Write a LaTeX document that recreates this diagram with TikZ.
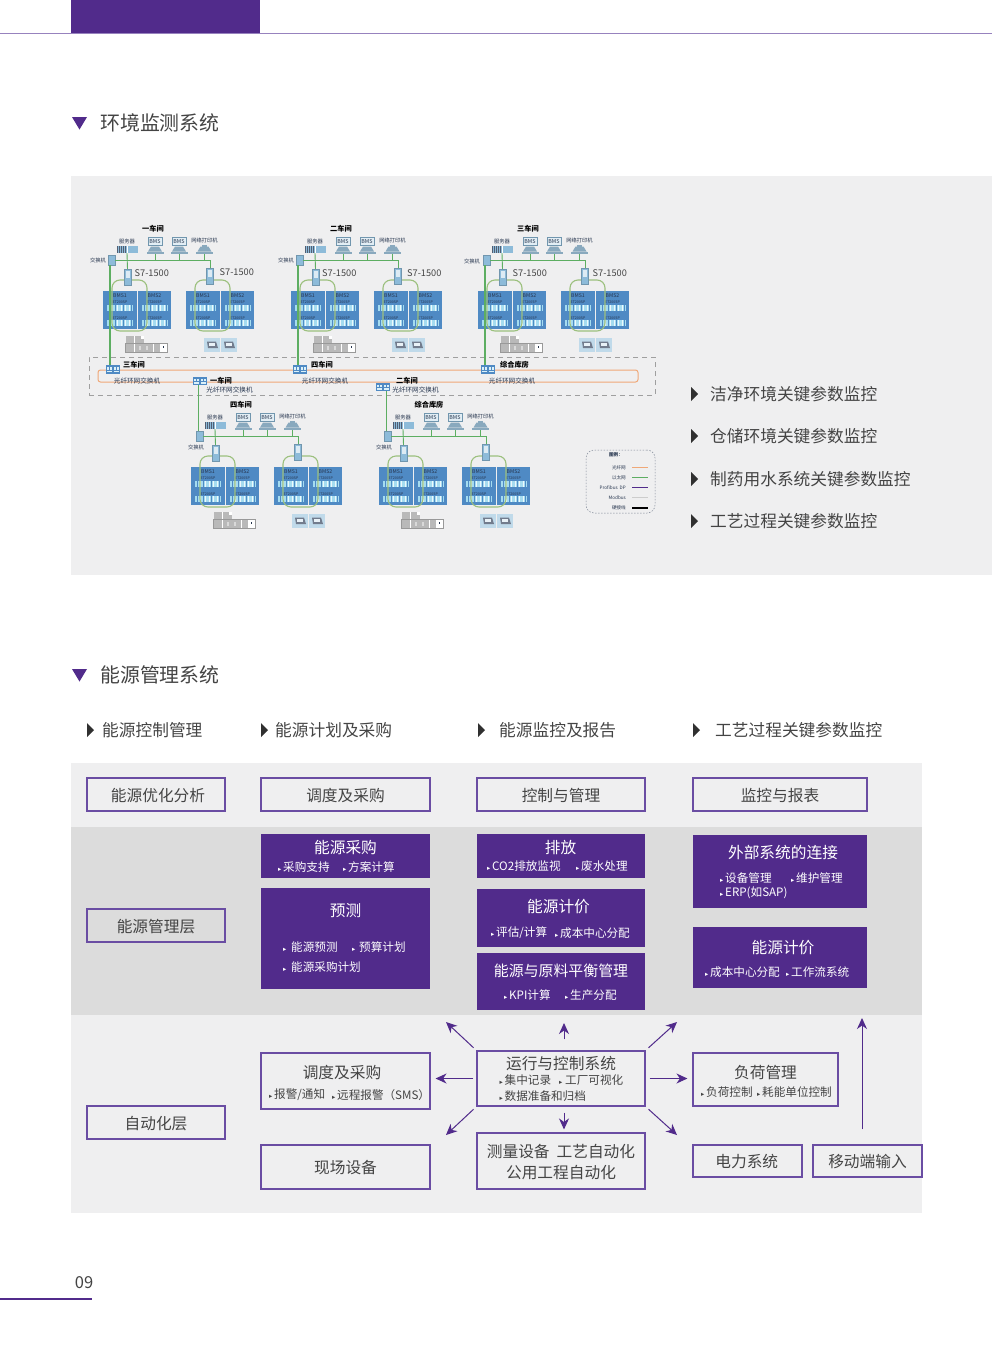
\documentclass[tikz,border=0pt]{standalone}
\usepackage{fontspec}
\setmainfont{Noto Sans CJK SC}
\newfontfamily\symfont{DejaVu Sans}
\usetikzlibrary{positioning,arrows.meta}

\definecolor{mainpurple}{HTML}{512B8B}
\definecolor{framepurple}{HTML}{6A4DA3}
\definecolor{darktext}{HTML}{444444}
\definecolor{bandlight}{HTML}{EFEFF0}
\definecolor{bandmid}{HTML}{DCDCDC}
\definecolor{panelblue}{HTML}{4F8AC4}
\definecolor{stripcyan}{HTML}{A5DCF0}
\definecolor{iconblue}{HTML}{8DBBD9}
\definecolor{ethgreen}{HTML}{5DAE62}
\definecolor{loopgreen}{HTML}{9CC07E}
\definecolor{ringorange}{HTML}{EFA878}
\definecolor{navytext}{HTML}{27364F}

\newcommand{\tick}{\makebox[5pt][l]{\symfont\fontsize{6.5}{6.5}\selectfont ▸}}
\newcommand{\fsz}[1]{\fontsize{#1}{#1}\selectfont}

\tikzset{
    plainbox/.style={draw=framepurple, line width=1.6pt, inner sep=0pt, text=darktext, font=\fsz{15.7}, text height=15pt, text depth=2pt},
    solidbox/.style={fill=mainpurple, inner sep=0pt, text=white, font=\fsz{15.7}},
    boxline/.style={anchor=center, inner sep=0pt, font=\fsz{15.7}},
    itemlabel/.style={anchor=west, inner sep=0pt, font=\fsz{11.6}},
    listlabel/.style={anchor=west, inner sep=0pt, text=darktext, font=\fsz{16.7}},
    headlabel/.style={anchor=west, inner sep=0pt, text=darktext, font=\fsz{19.9}},
    flowarrow/.style={draw=mainpurple, line width=1pt, -{Stealth[length=11pt,width=10pt,inset=3.5pt]}},
    netlabel/.style={inner sep=0pt, text=navytext, font=\fsz{5.3}},
    hallabel/.style={inner sep=0pt, text=black, font=\fsz{7.2}\bfseries},
    ringlabel/.style={inner sep=0pt, text=navytext, font=\fsz{6.6}},
    plclabel/.style={anchor=west, inner sep=0pt, text=darktext, font=\fsz{9.2}},
    bmsbox/.style={fill=panelblue, anchor=north west, minimum width=33.5pt, minimum height=38pt, inner sep=0pt},
    monitor/.style={draw=iconblue!80!black, fill=iconblue!25, line width=.6pt, minimum width=14pt, minimum height=8.5pt, inner sep=0pt, text=navytext, font=\fsz{5.4}},
    stand/.style={fill=iconblue!70!gray, minimum width=17pt, minimum height=2pt, inner sep=0pt},
    serverbox/.style={fill=iconblue, minimum width=21pt, minimum height=7pt, inner sep=0pt},
    switchbox/.style={fill=iconblue, draw=iconblue!80!black, line width=.3pt, minimum width=6.5pt, minimum height=10pt, inner sep=0pt},
    plcbox/.style={fill=iconblue, draw=iconblue!80!black, line width=.3pt, minimum width=7pt, minimum height=16pt, inner sep=0pt},
    ringswitch/.style={fill=panelblue, minimum width=14pt, minimum height=8.5pt, inner sep=0pt},
    loopbox/.style={draw=loopgreen, line width=1.1pt, rounded corners=8pt, minimum width=35pt, minimum height=51pt, inner sep=0pt},
    ethline/.style={draw=ethgreen, line width=.9pt},
    uplink/.style={draw=ethgreen, line width=1.1pt},
}

% one cabinet with its two rows of modules
\newcommand{\bmspanel}[3]{%
    \node[bmsbox] (#1) at (#2,291) {};
    \node[inner sep=0pt, text=navytext, font=\fsz{5.2}] (#1t) at (#2+17,296) {#3};
    \node[inner sep=0pt, text=navytext, font=\fsz{3.6}] (#1e) at (#2+17,301.7) {ET200SP};
    \node[inner sep=0pt, text=navytext, font=\fsz{3.6}] (#1f) at (#2+17,317.7) {ET200SP};
    \foreach \sy in {305,320} {
        \fill[stripcyan] (#2+4,\sy) rectangle ++(26,6);
        \foreach \k in {5,10,14,18,22} \fill[white!80!stripcyan] (#2+4+\k,\sy) rectangle ++(1.2,6);
        \foreach \k in {2,8,16,24} \fill[panelblue] (#2+4+\k,\sy) rectangle ++(.8,6);
    }
}

% ring switch with its small white ports
\newcommand{\ringnode}[3]{%
    \node[ringswitch] (#1) at (#2,#3) {};
    \foreach \k in {-5,-2,2,5} \fill[white!60!stripcyan] (#2+\k-.6,#3-2.5) rectangle ++(1.2,2.5);
    \fill[white!60!stripcyan] (#2-6,#3+1) rectangle ++(5,1.6);
    \fill[white!60!stripcyan] (#2+1,#3+1) rectangle ++(5,1.6);
}

% one monitor stand
\newcommand{\standnode}[3]{%
    \fill[iconblue!70!gray] (#2-4,246.5) -- (#2+4,246.5) -- (#2+7,251.5) -- (#2-7,251.5) -- cycle;
    \node[stand] (#1) at (#2,252.5) {};
}

% one workshop: servers, bus, two PLC and four cabinets
\newcommand{\netgroup}[4]{%
    \begin{scope}[shift={(#2,#3)}]
        \node[hallabel] (#1title) at (153,228.5) {#4};
        \node[netlabel] (#1srvt) at (127,241) {服务器};
        \node[netlabel] (#1prnt) at (204.5,240.5) {网络打印机};
        \node[serverbox] (#1srv) at (127,249.5) {};
        \foreach \k in {0,2,4,6,8} \fill[navytext!80] (116.5+\k,246) rectangle ++(1,7);
        \fill[white] (127,246) rectangle ++(1,7);
        \node[monitor] (#1mona) at (155,241.5) {BMS};
        \node[monitor] (#1monb) at (179,241.5) {BMS};
        \standnode{#1bsa}{155}{}
        \standnode{#1bsb}{179}{}
        \standnode{#1prn}{204.5}{}
        \fill[iconblue!70!gray] (202,244.5) rectangle ++(5,3);
        \node[switchbox] (#1sw) at (111.5,260) {};

        \bmspanel{#1pa}{103}{BMS1}
        \bmspanel{#1pb}{137.5}{BMS2}
        \bmspanel{#1pc}{186}{BMS1}
        \bmspanel{#1pd}{220.5}{BMS2}
        \node[loopbox] (#1la) at (129.5,305.5) {};
        \node[loopbox] (#1lb) at (212.5,305.5) {};
        \node[plcbox] (#1plca) at (127.5,277) {};
        \fill[white!70!iconblue] (125.5,271) rectangle ++(4,7);
        \node[plcbox] (#1plcb) at (210,276) {};
        \fill[white!70!iconblue] (208,270) rectangle ++(4,7);

        \draw[ethline] (#1sw.east) -- (#1sw.east -| #1plcb.north) -- (#1plcb.north);
        \draw[ethline] (#1srv.south) -- (#1plca.north);
        \draw[ethline] (#1bsa.south) -- (#1bsa.south |- #1sw.east);
        \draw[ethline] (#1bsb.south) -- (#1bsb.south |- #1sw.east);
        \draw[ethline] (#1prn.south) -- (#1prn.south |- #1sw.east);

        % gray rack under the first pair
        \fill[gray!55] (125.5,335.5) rectangle (144,343);
        \fill[gray!55] (125.5,343.5) rectangle (167,352);
        \draw[white, line width=.5pt] (134,335.5) -- (134,352);
        \draw[white, line width=.5pt] (153,343.5) -- (153,352);
        \fill[white] (160,344) rectangle (166.5,351.5);
        \fill[white] (140.5,336) rectangle (143.5,338.5);
        \fill[white!70!gray] (139,346) rectangle (141,350);
        \fill[white!70!gray] (146,346) rectangle (148,350);
        \draw[navytext, line width=.5pt] (163,346) -- (163,348);
        \draw[gray!80, line width=.4pt] (125.5,343.5) rectangle (167,352);

        % two screens under the second pair
        \foreach \sx in {204,221} {
            \fill[iconblue!55] (\sx,338) rectangle ++(16,14);
            \fill[navytext!65] (\sx+3,341.5) -- (\sx+12,341.5) -- (\sx+14,348) -- (\sx+4,348) -- cycle;
            \fill[white!80!iconblue] (\sx+5,343) rectangle ++(6,3);
        }
    \end{scope}
}

\begin{document}
\begin{tikzpicture}[x=1pt,y=-1pt]
    \useasboundingbox (0,0) rectangle (992,1347);

    % page head
    \fill[mainpurple] (71,0) rectangle (260,33);
    \draw[framepurple!70, line width=.8pt] (0,33.5) -- (992,33.5);

    % first section
    \fill[mainpurple] (72,117) -- (87,117) -- (79.5,129.5) -- cycle;
    \node[headlabel] (envhead) at (100,123) {环境监测系统};
    \fill[bandlight] (71,176) rectangle (992,575);

    \node[draw=gray!75, dash pattern=on 5pt off 4pt, line width=.7pt, minimum width=566pt, minimum height=38pt, inner sep=0pt] (ringzone) at (372,376) {};
    \node[draw=ringorange, line width=1pt, rounded corners=2.5pt, minimum width=540pt, minimum height=12pt, inner sep=0pt] (fiberring) at (368,376) {};

    \netgroup{a}{0}{0}{一车间}
    \netgroup{b}{188}{0}{二车间}
    \netgroup{c}{375}{0}{三车间}
    \netgroup{d}{88}{176}{四车间}
    \netgroup{e}{276}{176}{综合库房}

    % switch and controller captions
    \node[netlabel] (aswt) at (98,260) {交换机};
    \node[netlabel] (bswt) at (286,260.5) {交换机};
    \node[netlabel] (cswt) at (472,261) {交换机};
    \node[netlabel] (dswt) at (196,447) {交换机};
    \node[netlabel] (eswt) at (384,447) {交换机};
    \foreach \nm/\xx/\yy in {sa/134.5/273.5, sb/219.5/272.5, sc/322/273.5, sd/407/273.5, se/512.5/273.5, sf/592.5/273.5}
        \node[plclabel] (\nm) at (\xx,\yy) {S7-1500};

    % ring switches
    \ringnode{rthree}{113}{369.5}
    \ringnode{rone}{200}{381}
    \ringnode{rfour}{300}{369.5}
    \ringnode{rtwo}{383}{387}
    \ringnode{rstore}{488}{369.5}

    \node[hallabel] (rthreet) at (134,365) {三车间};
    \node[ringlabel] (rthreef) at (137,381) {光纤环网交换机};
    \node[hallabel] (ronet) at (221,380.5) {一车间};
    \node[ringlabel] (ronef) at (229.5,390) {光纤环网交换机};
    \node[hallabel] (rfourt) at (322,365) {四车间};
    \node[ringlabel] (rfourf) at (325,381) {光纤环网交换机};
    \node[hallabel] (rtwot) at (407,380.5) {二车间};
    \node[ringlabel] (rtwof) at (415.5,390) {光纤环网交换机};
    \node[hallabel] (rstoret) at (514.5,365) {综合库房};
    \node[ringlabel] (rstoref) at (512,381) {光纤环网交换机};

    \draw[uplink] ([xshift=-1.5]asw.south) -- ([xshift=-1.5]asw.south |- rthree.north);
    \draw[uplink] ([xshift=-1.5]bsw.south) -- ([xshift=-1.5]bsw.south |- rfour.north);
    \draw[uplink] ([xshift=-1.5]csw.south) -- ([xshift=-1.5]csw.south |- rstore.north);
    \draw[uplink] ([xshift=-1.3]dsw.north) -- ([xshift=-1.3]dsw.north |- rone.south);
    \draw[uplink] ([xshift=-1.3]esw.north) -- ([xshift=-1.3]esw.north |- rtwo.south);

    % legend
    \node[draw=navytext!60, dash pattern=on 1.5pt off 1.5pt, line width=.5pt, rounded corners=8pt, minimum width=69pt, minimum height=63pt, inner sep=0pt] (legendbox) at (620.5,481.5) {};
    \node[inner sep=0pt, text=navytext, font=\fsz{4.6}\bfseries] (legendt) at (616,455) {图例：};
    \foreach \nm/\txt/\cc/\yy in {lga/光纤网/ringorange/467.5, lgb/以太网/ethgreen/477.5, lgc/Profibus\hspace{2pt}DP/mainpurple/487.5, lgd/Modbus/gray!40/497.5, lge/硬接线/black/508} {
        \node[anchor=east, inner sep=0pt, text=navytext, font=\fsz{4.6}] (\nm) at (626,\yy) {\txt};
        \draw[color=\cc, line width=1.4pt] ([xshift=6]\nm.east) -- ([xshift=22]\nm.east);
    }

    % list on the right
    \foreach \nm/\yy/\txt in {la/394/洁净环境关键参数监控, lb/436/仓储环境关键参数监控, lc/479/制药用水系统关键参数监控, ld/521/工艺过程关键参数监控} {
        \fill[darktext!70!black] (691,\yy-7) -- (698,\yy) -- (691,\yy+7) -- cycle;
        \node[listlabel] (\nm) at (710,\yy) {\txt};
    }

    % second section
    \fill[mainpurple] (72,669) -- (87,669) -- (79.5,681.5) -- cycle;
    \node[headlabel] (enghead) at (100,675) {能源管理系统};
    \foreach \nm/\tx/\xx/\txt in {ca/87/102/能源控制管理, cb/261/275/能源计划及采购, cc/478/499/能源监控及报告, cd/693/715/工艺过程关键参数监控} {
        \fill[darktext!70!black] (\tx,723) -- (\tx+7,730) -- (\tx,737) -- cycle;
        \node[listlabel] (\nm) at (\xx,730) {\txt};
    }

    \fill[bandlight] (71,763) rectangle (922,827);
    \fill[bandmid] (71,827) rectangle (922,1015);
    \fill[bandlight] (71,1015) rectangle (922,1213);

    % framed boxes
    \node[plainbox, minimum width=137.5pt, minimum height=32.5pt] (optim) at (156,794.5) {\hspace{4pt}能源优化分析};
    \node[plainbox, minimum width=168.5pt, minimum height=32.5pt] (sched) at (345.5,794.5) {调度及采购};
    \node[plainbox, minimum width=167.5pt, minimum height=32.5pt] (contr) at (561,794.5) {控制与管理};
    \node[plainbox, minimum width=173.5pt, minimum height=32.5pt] (monit) at (780,794.5) {监控与报表};
    \node[plainbox, minimum width=137.5pt, minimum height=32.5pt] (mglayer) at (156,925.5) {能源管理层};
    \node[plainbox, minimum width=137.5pt, minimum height=32.5pt] (autolayer) at (156,1122.5) {自动化层};
    \node[plainbox, minimum width=168.5pt, minimum height=43.5pt] (field) at (345.5,1167) {现场设备};
    \node[plainbox, minimum width=108.5pt, minimum height=31.5pt] (power) at (747.5,1161) {\hspace{-1.5pt}电力系统};
    \node[plainbox, minimum width=108.5pt, minimum height=31.5pt] (mobile) at (867.5,1161) {移动端输入};
    \node[plainbox, minimum width=168.5pt, minimum height=55.5pt] (schedb) at (345.5,1081) {};
    \node[plainbox, minimum width=167.5pt, minimum height=54.5pt] (ctrl) at (561,1078.5) {};
    \node[plainbox, minimum width=167.5pt, minimum height=55.5pt] (meas) at (561,1161) {};
    \node[plainbox, minimum width=144.5pt, minimum height=52.5pt] (load) at (765.5,1079.5) {};

    % filled boxes
    \node[solidbox, minimum width=169pt, minimum height=44pt] (purch) at (345.5,856) {};
    \node[solidbox, minimum width=169pt, minimum height=101pt] (fcast) at (345.5,938.5) {};
    \node[solidbox, minimum width=168pt, minimum height=44pt] (emis) at (561,856) {};
    \node[solidbox, minimum width=168pt, minimum height=58pt] (price) at (561,918) {};
    \node[solidbox, minimum width=168pt, minimum height=57pt] (balan) at (561,981.5) {};
    \node[solidbox, minimum width=174pt, minimum height=73pt] (extern) at (780,871.5) {};
    \node[solidbox, minimum width=174pt, minimum height=61pt] (priceb) at (780,957.5) {};

    % box titles
    \foreach \nm/\xx/\yy/\txt in {purcht/345.5/848/能源采购, fcastt/345.5/911/预测, emist/560.5/848/排放, pricet/558.5/907/能源计价, externt/783/853/外部系统的连接, pricebt/783/948/能源计价}
        \node[boxline, text=white] (\nm) at (\xx,\yy) {\txt};
    \node[boxline, text=white, font=\fsz{14.9}] (balant) at (561,971) {能源与原料平衡管理};
    \foreach \nm/\xx/\yy/\txt in {schedbt/342/1072.5/调度及采购, ctrlt/561/1063.5/运行与控制系统, measa/561/1152/测量设备\hspace{7pt}工艺自动化, measb/561/1173/公用工程自动化, loadt/765.5/1072.5/负荷管理}
        \node[boxline, text=darktext] (\nm) at (\xx,\yy) {\txt};

    % items in the filled boxes
    \foreach \nm/\xx/\yy/\txt in {
        ia/278/867/采购支持, ib/343/867/方案计算,
        ic/283/947/\hspace{3pt}能源预测, id/352/947/\hspace{2pt}预算计划, ie/283/967/\hspace{3pt}能源采购计划,
        ig/487/866/CO2排放监视, ih/576/866/废水处理,
        ii/491/933/{评估/计算}, ij/555/933/成本中心分配,
        ik/504/995/KPI计算, il/565/995/生产分配,
        im/720/878/设备管理, in/791/878/维护管理, io/720/893/ERP(如SAP),
        ip/705/972/成本中心分配, iq/786/972/工作流系统}
        \node[itemlabel, text=white] (\nm) at (\xx,\yy) {\tick\txt};

    % items in the framed boxes
    \foreach \nm/\xx/\yy/\txt in {
        ja/269/1095/{报警/通知}, jb/332/1095/远程报警（SMS）,
        jc/499.5/1080/集中记录, jd/559/1080/\hspace{1pt}工厂可视化, je/499.5/1096/数据准备和归档,
        jf/701/1092/负荷控制, jg/757/1092/耗能单位控制}
        \node[itemlabel, text=darktext] (\nm) at (\xx,\yy) {\tick\txt};

    % arrows round the control box
    \coordinate (upnw) at (446,1022);
    \coordinate (upne) at (677,1022);
    \coordinate (dnsw) at (446,1135);
    \coordinate (dnse) at (677,1135);
    \coordinate (uptop) at (564,1023);
    \coordinate (mobtop) at (862,1018);
    \draw[flowarrow, shorten <=4pt] (ctrl.north west) -- (upnw);
    \draw[flowarrow, shorten <=4pt] (ctrl.north east) -- (upne);
    \draw[flowarrow, shorten <=4pt] (ctrl.south west) -- (dnsw);
    \draw[flowarrow, shorten <=4pt] (ctrl.south east) -- (dnse);
    \draw[flowarrow, shorten <=11pt] ([xshift=3]ctrl.north) -- (uptop);
    \draw[flowarrow, shorten <=6pt, shorten >=3pt] ([xshift=3]ctrl.south) -- ([xshift=3]ctrl.south |- meas.north);
    \draw[flowarrow, shorten <=3pt, shorten >=5pt] (ctrl.west) -- (ctrl.west -| schedb.east);
    \draw[flowarrow, shorten <=4pt, shorten >=5pt] (ctrl.east) -- (ctrl.east -| load.west);
    \draw[flowarrow, shorten <=15pt] ([xshift=-5.5]mobile.north) -- (mobtop);

    % page foot
    \node[inner sep=0pt, text=darktext, font=\fsz{16.5}] (pagenum) at (84,1283) {09};
    \draw[mainpurple, line width=2pt] (0,1299) -- (92,1299);
\end{tikzpicture}
\end{document}
